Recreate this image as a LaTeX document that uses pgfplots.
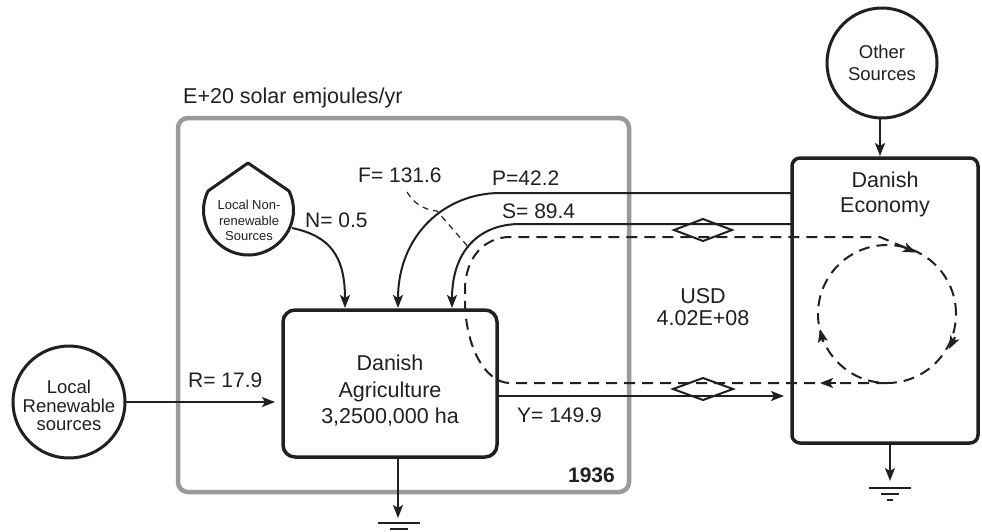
\documentclass[border=0pt]{standalone}
\usepackage{fontspec}
\setmainfont{Liberation Sans}
\usepackage{pgfplots}
\pgfplotsset{compat=1.18}
\usetikzlibrary{arrows.meta}
\definecolor{ink}{HTML}{231F20}
\definecolor{greybox}{HTML}{9A9A9C}
\begin{document}
\begin{tikzpicture}[
  lbl/.style={font=\fontsize{21}{25}\selectfont, anchor=base west, inner sep=0pt, text=ink},
  ctr/.style={font=\fontsize{21.5}{26}\selectfont, anchor=base, inner sep=0pt, text=ink},
  sml/.style={font=\fontsize{18.5}{22}\selectfont, anchor=base, inner sep=0pt, text=ink},
  tny/.style={font=\fontsize{13}{15}\selectfont, anchor=base, inner sep=0pt, text=ink},
  flow/.style={draw=ink, line width=2pt},
  arr/.style={-{Stealth[length=13pt,width=10pt,inset=3pt]}},
  dsh/.style={draw=ink, line width=2pt, dash pattern=on 11pt off 7pt},
]
\begin{axis}[x=1pt, y=1pt, xmin=0, xmax=982, ymin=0, ymax=531, y dir=reverse,
  hide axis, clip=false]
\path (0,0) rectangle (982,531);
% grey system boundary
\draw[greybox, line width=4.5pt, rounded corners=10pt] (178,118) rectangle (629,492);
\node[lbl, font=\fontsize{21.5}{25}\selectfont] at (183,103) {E+20 solar emjoules/yr};
% agriculture box
\draw[ink, line width=3.5pt, rounded corners=12pt] (283,310) rectangle (497,457);
\node[ctr] at (390,370) {Danish};
\node[ctr] at (390,397) {Agriculture};
\node[ctr] at (390,423) {3,2500,000 ha};
% economy box
\draw[ink, line width=3.5pt, rounded corners=8pt] (792,158) rectangle (978,443);
\node[ctr] at (885,187) {Danish};
\node[ctr] at (885,212) {Economy};
% other sources
\draw[ink, line width=3pt] (882,63) circle[radius=55pt];
\node[sml] at (882,58) {Other};
\node[sml] at (882,80) {Sources};
\draw[flow, arr] (880,118) -- (880,156);
% local renewable
\draw[ink, line width=3pt] (69,402) circle[radius=56pt];
\node[sml] at (69,393) {Local};
\node[sml] at (69,412) {Renewable};
\node[sml] at (69,430) {sources};
\draw[flow, arr] (125,402) -- (275,402);
\node[lbl] at (188,387) {R= 17.9};
% local non-renewable
\draw[ink, line width=3pt, line join=round] (248,163) -- (289,191)
  .. controls (292,197) and (293.5,204) .. (293.5,210)
  .. controls (293.5,234.8) and (272.3,255) .. (248.5,255)
  .. controls (223.7,255) and (203.5,234.8) .. (203.5,210)
  .. controls (203.5,204) and (205,197) .. (208,191) -- cycle;
\node[tny] at (249,209) {Local Non-};
\node[tny] at (249,225) {renewable};
\node[tny] at (249,240) {Sources};
\draw[flow, arr] (292,228) .. controls (330,236) and (345,256) .. (345,308);
\node[lbl] at (305,227) {N= 0.5};
% purchased
\draw[flow, arr] (792,193) -- (500,193) .. controls (445,193) and (398,235) .. (398,308);
\node[lbl] at (492,185) {P=42.2};
\draw[flow, arr] (792,224) -- (520,224) .. controls (480,224) and (452,250) .. (452,308);
\node[lbl] at (502,218) {S= 89.4};
% F dashed
\draw[ink, line width=1.2pt, dash pattern=on 6pt off 5pt] (407,192) .. controls (414,204) and (425,210) .. (437,211) -- (470,249);
\node[lbl] at (358,182) {F= 131.6};
% money loop
\draw[dsh] (887,383) -- (510,383) .. controls (485,383) and (465,346) .. (465,300)
  -- (465,290) .. controls (465,257) and (485,237) .. (510,237) -- (880,237) -- (913,251);
\draw[ink, line width=2pt, arr] (900,245.5) -- (916,252.5);
\draw[dsh] (887,314) circle[radius=69pt];
\draw[ink, line width=2pt, arr] (955,337) -- (949,349);
\draw[ink, line width=2pt, arr] (823,342) -- (820,329);
\draw[ink, line width=2pt, arr] (836,383) -- (820,383);
\node[ctr] at (703,303) {USD};
\node[ctr] at (703,325) {4.02E+08};
% diamonds
\draw[ink, line width=2pt] (674,230) -- (703,219) -- (732,230) -- (703,241) -- cycle;
\draw[ink, line width=2pt] (673,389) -- (703,378) -- (733,389) -- (703,400) -- cycle;
% yield
\draw[flow, arr] (497,396) -- (784,396);
\node[lbl] at (517,422) {Y= 149.9};
\node[lbl, anchor=base east, font=\bfseries\fontsize{21}{25}\selectfont] at (615,482) {1936};
% heat sinks
\draw[ink, line width=1.5pt, arr] (398,457) -- (398,518);
\draw[ink, line width=1.5pt] (378,523) -- (420,523);
\draw[ink, line width=1.5pt] (390,529) -- (408,529);
\draw[ink, line width=1.5pt, arr] (890,443) -- (890,481);
\draw[ink, line width=1.5pt] (869,488) -- (911,488);
\draw[ink, line width=1.5pt] (881,494) -- (899,494);
\draw[ink, line width=1.5pt] (887,500) -- (893,500);
\end{axis}
\end{tikzpicture}
\end{document}
